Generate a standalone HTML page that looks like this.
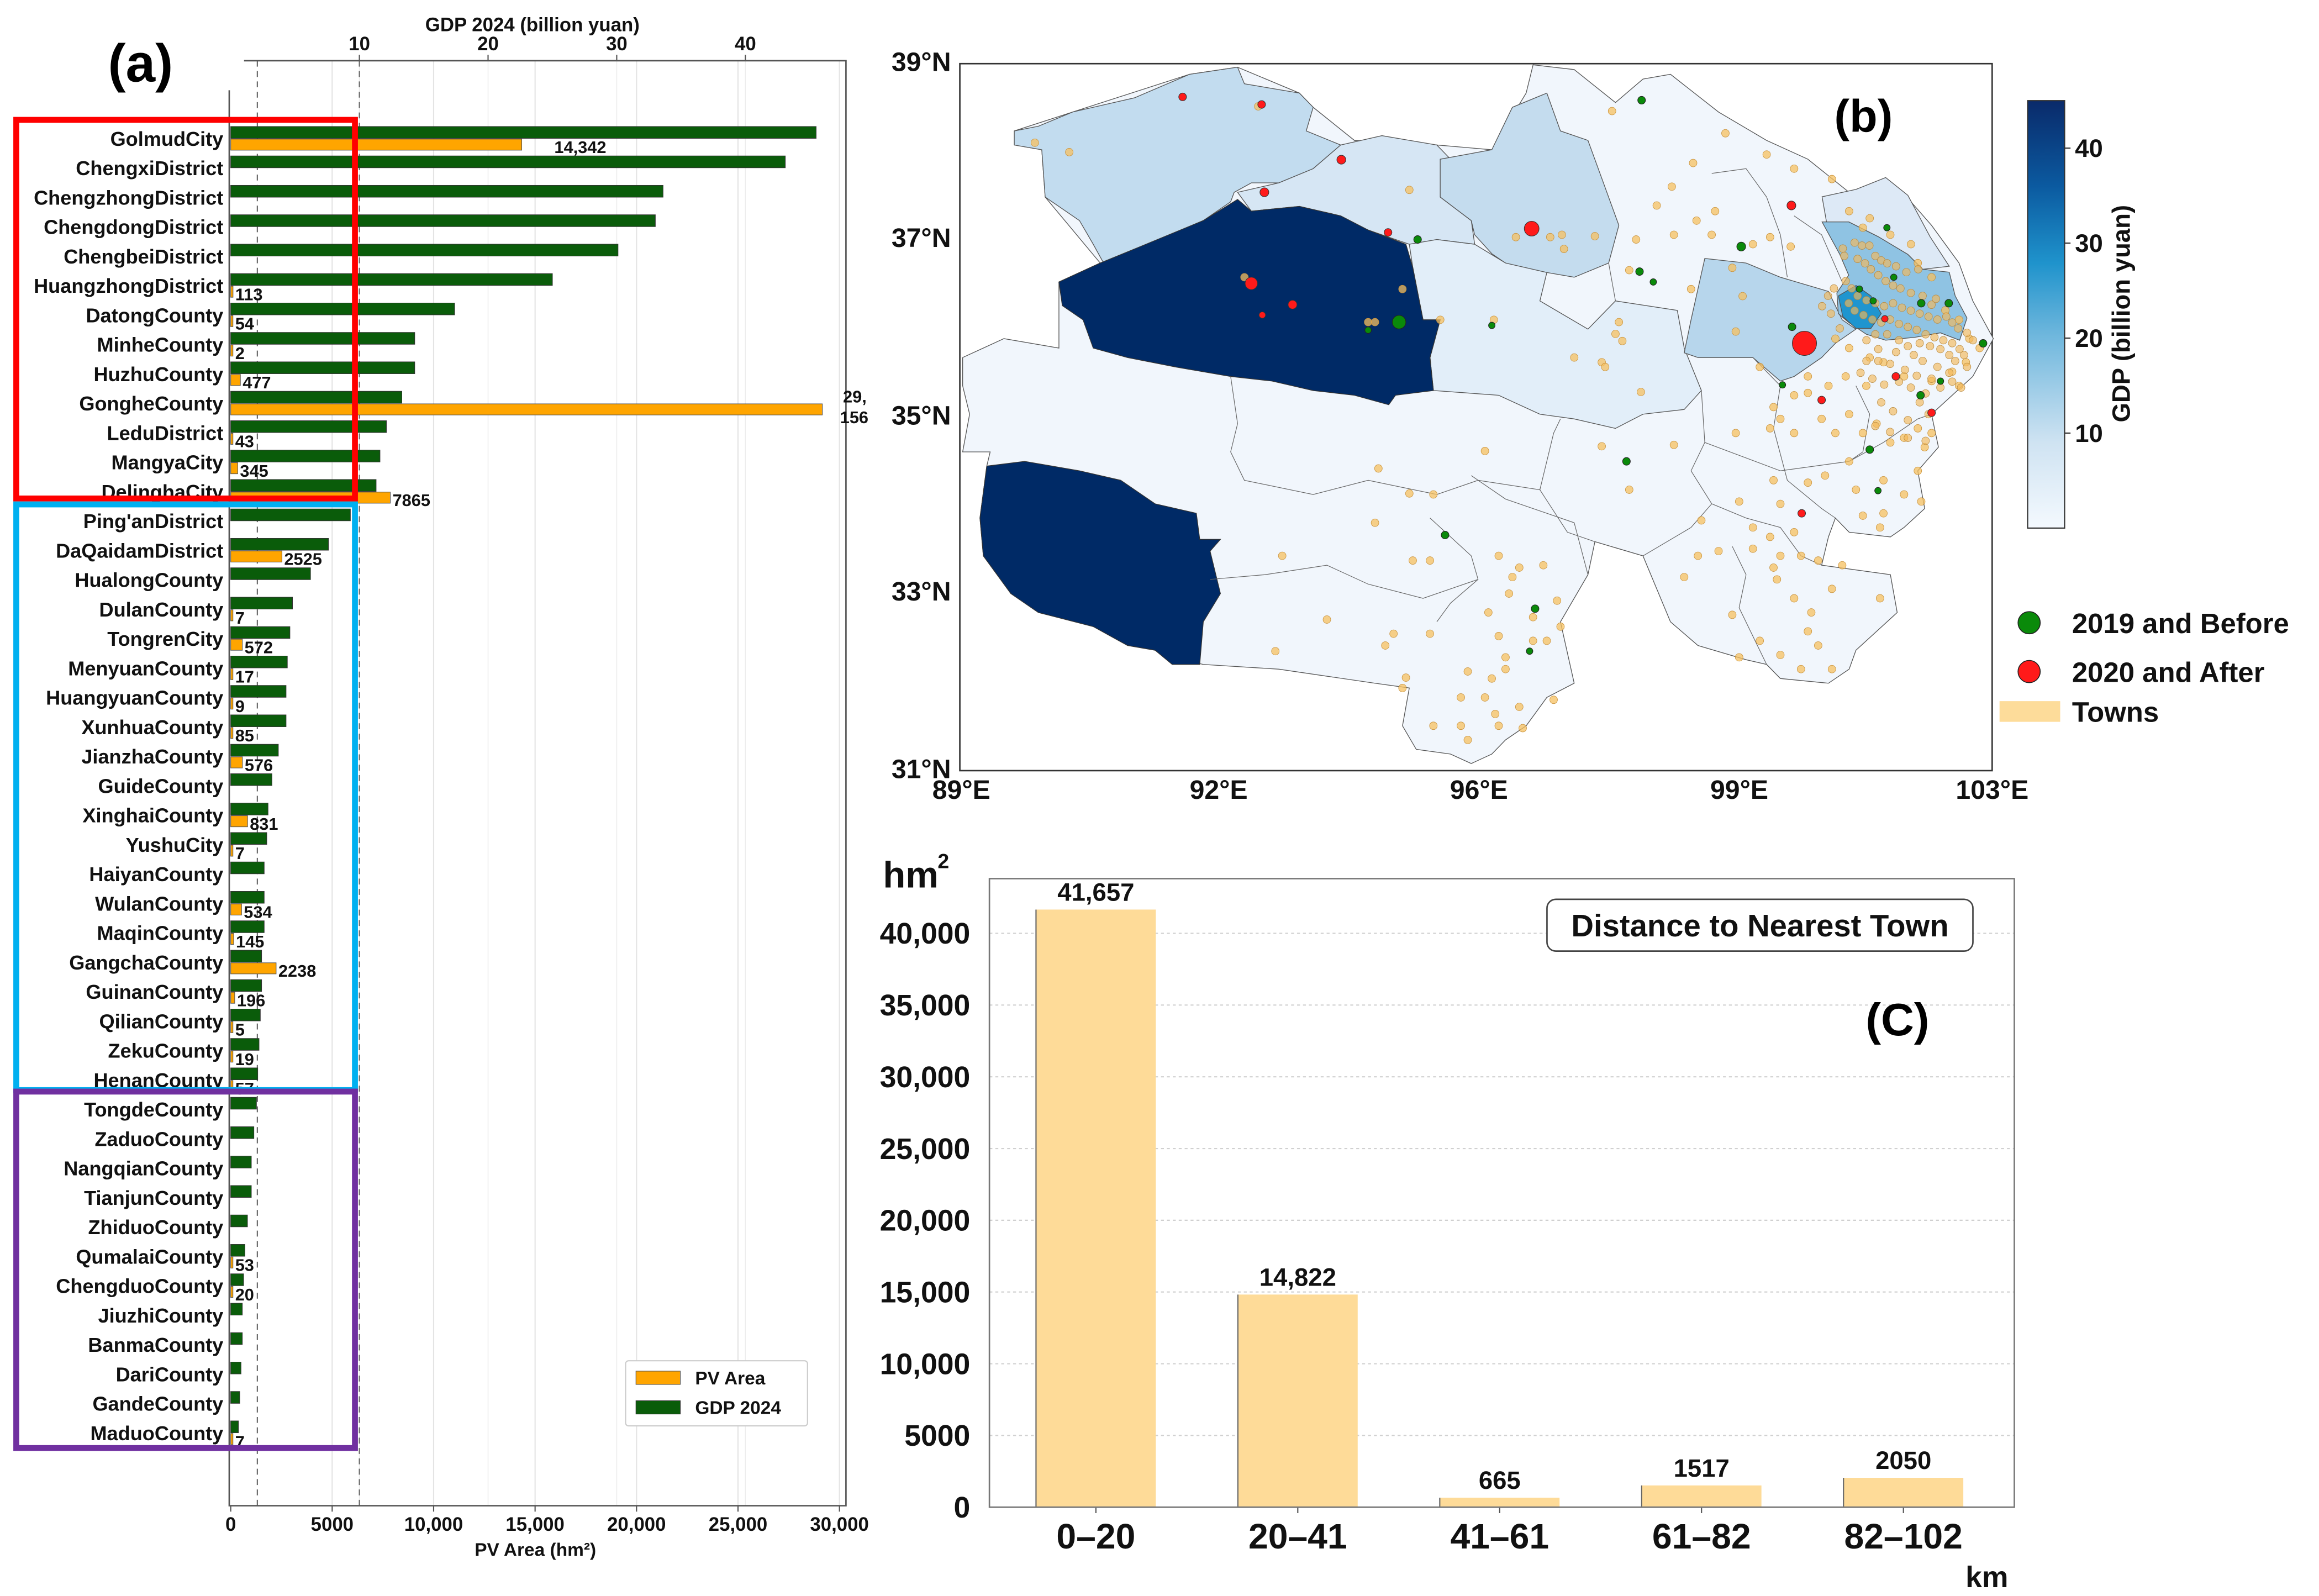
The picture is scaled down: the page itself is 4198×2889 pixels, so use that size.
<!DOCTYPE html>
<html><head><meta charset="utf-8">
<style>
html,body{margin:0;padding:0;background:#fff;}
svg{display:block;font-family:"Liberation Sans Narrow","Liberation Sans",sans-serif;font-weight:bold;}
</style></head>
<body>
<svg id="fig" xmlns="http://www.w3.org/2000/svg" width="4198" height="2889" viewBox="0 0 1568 1079">
<rect x="0" y="0" width="1568" height="1079" fill="#fff"/>
<g id="pa"></g>
<g id="pb"></g>
<g id="pc"></g>
</svg>
<script>
// ---------- Panel (a) data ----------
const counties = ["GolmudCity","ChengxiDistrict","ChengzhongDistrict","ChengdongDistrict","ChengbeiDistrict","HuangzhongDistrict","DatongCounty","MinheCounty","HuzhuCounty","GongheCounty","LeduDistrict","MangyaCity","DelinghaCity","Ping'anDistrict","DaQaidamDistrict","HualongCounty","DulanCounty","TongrenCity","MenyuanCounty","HuangyuanCounty","XunhuaCounty","JianzhaCounty","GuideCounty","XinghaiCounty","YushuCity","HaiyanCounty","WulanCounty","MaqinCounty","GangchaCounty","GuinanCounty","QilianCounty","ZekuCounty","HenanCounty","TongdeCounty","ZaduoCounty","NangqianCounty","TianjunCounty","ZhiduoCounty","QumalaiCounty","ChengduoCounty","JiuzhiCounty","BanmaCounty","DariCounty","GandeCounty","MaduoCounty"];
const gdpValues = [45.5,43.1,33.6,33.0,30.1,25.0,17.4,14.3,14.3,13.3,12.1,11.6,11.3,9.3,7.6,6.2,4.8,4.6,4.4,4.3,4.3,3.7,3.2,2.9,2.8,2.6,2.6,2.6,2.4,2.4,2.3,2.2,2.1,2.0,1.8,1.6,1.6,1.3,1.1,1.0,0.9,0.9,0.8,0.7,0.6];
const pvValues = [14342,0,0,0,0,113,54,2,477,29156,43,345,7865,0,2525,0,7,572,17,9,85,576,0,831,7,0,534,145,2238,196,5,19,57,0,0,0,0,0,53,20,0,0,0,0,7];
const pvTicks = [0,5000,10000,15000,20000,25000,30000];
const pvTickLabels = ["0","5000","10,000","15,000","20,000","25,000","30,000"];
const gdpTicks = [10,20,30,40];

// ---------- Panel (c) data ----------
const distCats = ["0–20","20–41","41–61","61–82","82–102"];
const distValues = [41657,14822,665,1517,2050];
const distTicks = [0,5000,10000,15000,20000,25000,30000,35000,40000];
const distTickLabels = ["0","5000","10,000","15,000","20,000","25,000","30,000","35,000","40,000"];

// ---------- Colorbar ----------
const cbTicks = [10,20,30,40];

const NS="http://www.w3.org/2000/svg";
function mk(parent,tag,attrs,text){const e=document.createElementNS(NS,tag);for(const k in attrs)e.setAttribute(k,attrs[k]);if(text!==undefined)e.textContent=text;parent.appendChild(e);return e;}

// ===== Panel A =====
(function(){
const g=document.getElementById('pa');
const x0=156, pxPerPV=68.6/5000, pxPerGDP=8.7;
const xPV=v=>x0+v*pxPerPV, xGDP=v=>x0+v*pxPerGDP;
const rowY=i=>94+i*19.89;
pvTicks.forEach(t=>{if(t>0){const l=mk(g,'line',{x1:xPV(t),x2:xPV(t),y1:41,y2:1018,stroke:'#e4e4e4','stroke-width':0.8});

}});
gdpTicks.forEach(t=>{const l=mk(g,'line',{x1:xGDP(t),x2:xGDP(t),y1:41,y2:1018,stroke:'#ececec','stroke-width':0.6});

});
[174,243].forEach(x=>{const l=mk(g,'line',{x1:x,x2:x,y1:41,y2:1018,stroke:'#666','stroke-width':0.8,'stroke-dasharray':'4,3'});

});
const ax=mk(g,'path',{d:'M165,41 H572 V1018 H155 V61',fill:'none',stroke:'#555','stroke-width':1});


counties.forEach((c,i)=>{
 const y=rowY(i);
 const t=mk(g,'text',{x:151,y:y+4.5,'text-anchor':'end','font-size':13.5,fill:'#111'},c);
 
 
 const gb=mk(g,'rect',{x:x0,y:y-8.5,width:xGDP(gdpValues[i])-x0,height:8,fill:'#0a5c0a',stroke:'#333','stroke-width':0.4});
 
 
 const v=pvValues[i];
 if(v>0){
  const w=Math.max(xPV(v)-x0,1.5);
  const pb=mk(g,'rect',{x:x0,y:y,width:w,height:7.5,fill:'#ffa500',stroke:'#555','stroke-width':0.4});
  
  
  const s=v>=10000?v.toLocaleString('en-US'):String(v);
  let lx=x0+w+1.5;
  if(v>=10000&&v<20000) lx=x0+w+22;
  if(lx>540){
   const parts=s.split(',');
   const a=mk(g,'text',{x:570,y:y-1,'font-size':11.5,fill:'#111'},parts[0]+',');
   
   
   const b=mk(g,'text',{x:568,y:y+13,'font-size':11.5,fill:'#111'},parts[1]);
   
   
  } else {
   const a=mk(g,'text',{x:lx,y:y+9.5,'font-size':11.5,fill:'#111'},s);
   
   
  }
 }
});
pvTicks.forEach((t,i)=>{mk(g,'line',{x1:xPV(t),x2:xPV(t),y1:1018,y2:1022,stroke:'#555','stroke-width':0.8});
 const a=mk(g,'text',{x:xPV(t),y:1035,'text-anchor':'middle','font-size':13,fill:'#111'},pvTickLabels[i]);
 
 });
const xt=mk(g,'text',{x:362,y:1052,'text-anchor':'middle','font-size':12.5,fill:'#111'},'PV Area (hm²)');


gdpTicks.forEach(t=>{mk(g,'line',{x1:xGDP(t),x2:xGDP(t),y1:37,y2:41,stroke:'#555','stroke-width':0.8});
 const a=mk(g,'text',{x:xGDP(t),y:34,'text-anchor':'middle','font-size':13,fill:'#111'},String(t));
 
 });
const tt=mk(g,'text',{x:360,y:21,'text-anchor':'middle','font-size':13,fill:'#111'},'GDP 2024 (billion yuan)');


const pl=mk(g,'text',{x:95,y:55,'text-anchor':'middle','font-size':36,fill:'#000'},'(a)');


[[11,81,229,256,'#ff0000','group-box-high'],[11,341,229,396,'#00b0f0','group-box-medium'],[11,738,229,241,'#7030a0','group-box-low']].forEach(b=>{
 const r=mk(g,'rect',{x:b[0],y:b[1],width:b[2],height:b[3],fill:'none',stroke:b[4],'stroke-width':4});
 
 });
const lg=mk(g,'g',{});


mk(lg,'rect',{x:423,y:920,width:123,height:44,fill:'#fff',stroke:'#ccc','stroke-width':0.8,rx:2});
mk(lg,'rect',{x:430,y:927,width:30,height:9,fill:'#ffa500',stroke:'#555','stroke-width':0.4});
const l1=mk(lg,'text',{x:470,y:936,'font-size':12.5,fill:'#111'},'PV Area');


mk(lg,'rect',{x:430,y:947,width:30,height:9,fill:'#0a5c0a',stroke:'#333','stroke-width':0.4});
const l2=mk(lg,'text',{x:470,y:956,'font-size':12.5,fill:'#111'},'GDP 2024');


})();

// ===== Panel B (map) =====
(function(){
const g=document.getElementById('pb');
const MX=z=>646.3+z*0.4646, MY=z=>37.4+z*0.3192;
function poly(pts,fill,name,stroke){
 const d=pts.map(p=>MX(p[0]).toFixed(1)+','+MY(p[1]).toFixed(1)).join(' ');
 const e=mk(g,'polygon',{points:d,fill:fill,stroke:stroke||'#555','stroke-width':0.5});
 
 
}
function polyD(pts,fill,name){
 const d=pts.map(p=>p[0]+','+p[1]).join(' ');
 const e=mk(g,'polygon',{points:d,fill:fill,stroke:'#555','stroke-width':0.5});
 
 
}
function pline(pts){const d=pts.map(p=>MX(p[0]).toFixed(1)+','+MY(p[1]).toFixed(1)).join(' ');
 const e=mk(g,'polyline',{points:d,fill:'none',stroke:'#666','stroke-width':0.45});
 
 }
const frame=mk(g,'rect',{x:649,y:43,width:698,height:478,fill:'#fff',stroke:'#333','stroke-width':1});


poly([[10,640],[70,600],[150,620],[150,480],[210,440],[130,300],[125,200],[85,190],[85,160],[170,120],[340,40],[410,25],[500,80],[520,110],[580,180],[700,190],[780,200],[830,80],[840,20],[900,30],[960,100],[1000,50],[1040,40],[1110,120],[1180,180],[1240,220],[1300,290],[1350,280],[1390,310],[1420,360],[1460,440],[1480,520],[1510,600],[1480,680],[1450,720],[1420,760],[1430,830],[1400,880],[1410,960],[1380,1000],[1360,1020],[1300,1010],[1280,980],[1270,1020],[1260,1080],[1360,1100],[1370,1180],[1310,1260],[1300,1300],[1270,1330],[1200,1320],[1180,1290],[1150,1280],[1080,1250],[1040,1200],[1000,1060],[930,1030],[920,1100],[880,1200],[900,1330],[860,1360],[830,1420],[800,1450],[780,1480],[750,1500],[720,1480],[670,1470],[650,1420],[660,1340],[610,1330],[470,1300],[360,1290],[330,1280],[290,1260],[200,1210],[80,1140],[40,1060],[35,980],[45,870],[50,840],[10,840],[20,760],[10,700]],'#f1f6fc','qinghai-province');
poly([[85,160],[120,150],[170,120],[260,90],[340,40],[410,25],[420,60],[500,80],[520,110],[510,160],[560,190],[520,240],[470,270],[430,270],[405,290],[400,310],[360,350],[300,390],[260,410],[215,440],[200,400],[180,350],[130,300],[125,200],[85,190]],'#c2dcef','region-mangya');
poly([[410,290],[470,270],[520,240],[560,190],[620,170],[700,190],[720,220],[705,300],[750,350],[755,400],[700,390],[680,420],[660,400],[600,370],[560,340],[500,320],[430,330]],'#d6e6f4','region-daqaidam');
poly([[705,220],[780,200],[810,110],[860,80],[880,160],[920,180],[940,260],[965,360],[950,440],[900,470],[860,460],[820,460],[780,420],[755,380],[750,350],[705,300]],'#c4dcee','region-delingha');
poly([[660,400],[700,390],[755,400],[800,440],[860,460],[850,520],[920,580],[960,520],[1050,540],[1060,620],[1085,710],[1060,750],[1000,760],[960,790],[900,770],[850,760],[790,720],[695,710],[690,640],[705,560],[680,560],[665,450]],'#e2eef9','region-wulan');
poly([[1060,630],[1070,560],[1090,430],[1150,440],[1200,470],[1270,500],[1290,560],[1310,580],[1280,610],[1260,640],[1220,680],[1200,690],[1160,640],[1080,640]],'#b7d6ec','region-gonghe');
polyD([[1232,133],[1255,128],[1275,120],[1290,132],[1305,160],[1318,180],[1300,182],[1290,172],[1270,160],[1250,150],[1235,150]],'#dde9f6','region-menyuan');
polyD([[1232,150],[1250,150],[1270,160],[1290,172],[1300,182],[1318,184],[1322,200],[1330,215],[1325,230],[1312,225],[1295,228],[1275,230],[1262,226],[1250,218],[1243,212],[1242,198],[1250,186],[1244,172]],'#8fc3e3','region-huangzhong');
polyD([[1243,200],[1255,193],[1265,200],[1272,212],[1265,222],[1255,222],[1246,214]],'#1f95cf','region-xining');
poly([[150,480],[210,440],[260,410],[360,350],[410,305],[430,330],[500,320],[560,340],[600,370],[655,400],[665,450],[680,560],[705,560],[690,640],[695,710],[640,720],[630,740],[580,720],[520,710],[460,690],[400,680],[320,660],[250,640],[200,620],[185,560],[155,530]],'#002a66','region-golmud','#333');
poly([[45,870],[100,860],[180,880],[240,900],[290,950],[350,970],[355,1025],[385,1025],[370,1050],[385,1140],[360,1200],[355,1290],[315,1290],[290,1260],[250,1250],[200,1210],[120,1180],[80,1140],[40,1060],[35,980]],'#002a66','region-tanggula','#333');
pline([[400,680],[410,780],[400,840],[420,900],[520,930],[600,900],[700,930],[760,900],[850,920],[870,800],[880,770]]);
pline([[370,1110],[450,1100],[540,1080],[600,1120],[680,1150],[720,1130],[760,1110]]);
pline([[690,980],[750,1060],[760,1110],[720,1160],[700,1200]]);
pline([[750,890],[800,940],[900,990],[920,1100]]);
pline([[850,920],[890,1010],[930,1030]]);
pline([[1085,710],[1090,820],[1070,880],[1100,950],[1070,1000],[1000,1060]]);
pline([[1160,640],[1200,700],[1190,790],[1210,900],[1260,960],[1280,980]]);
pline([[1090,820],[1200,880],[1300,860],[1350,820],[1400,770],[1420,760]]);
pline([[1100,950],[1150,980],[1200,1000],[1230,1060],[1260,1080]]);
pline([[1100,250],[1150,240],[1180,300],[1200,380],[1210,470]]);
pline([[960,520],[950,440]]);
pline([[1220,340],[1260,380],[1290,480]]);
pline([[1130,1040],[1150,1100],[1140,1170],[1180,1290]]);
pline([[1310,700],[1330,760],[1320,840],[1300,860]]);
const towns=[[115,185],[165,205],[440,108],[660,285],[882,380],[885,410],[930,383],[815,385],[865,385],[955,118],[1120,165],[1180,210],[1220,240],[1275,262],[1073,228],[1042,278],[1020,318],[1078,350],[1105,330],[1045,380],[1100,380],[990,390],[1160,400],[1185,385],[1215,405],[980,455],[1070,495],[1130,450],[1145,510],[1135,585],[965,565],[970,605],[960,590],[900,640],[940,650],[945,660],[997,713],[783,560],[705,560],[650,495],[420,470],[1300,330],[1330,345],[1320,365],[1360,380],[1390,400],[1400,440],[1420,470],[1440,540],[1460,560],[1475,600],[1490,620],[1470,650],[1450,670],[1420,690],[1460,700],[1380,680],[1350,650],[1330,640],[1300,620],[1280,600],[1325,700],[1295,680],[1270,700],[1240,680],[1170,660],[1220,720],[1240,715],[1190,745],[1200,770],[1185,790],[1220,800],[1260,770],[1280,800],[1300,760],[1320,800],[1340,780],[1360,820],[1380,810],[1400,790],[1420,800],[1410,830],[1135,800],[1300,860],[1350,900],[1310,920],[1400,880],[1380,930],[1405,945],[1350,970],[1320,975],[1345,1000],[1265,890],[1240,905],[1190,900],[1200,950],[1140,945],[1160,1000],[1185,1020],[1220,1010],[1085,985],[1080,1060],[1110,1050],[1160,1045],[1200,1060],[1230,1060],[1190,1085],[1195,1110],[1255,1070],[1290,1080],[1275,1130],[1345,1150],[1245,1180],[1220,1150],[1130,1185],[1240,1220],[1255,1250],[1200,1270],[1230,1300],[1275,1300],[1140,1275],[1170,1240],[1060,1105],[940,828],[1045,825],[980,920],[770,838],[615,875],[660,928],[695,930],[610,990],[475,1060],[665,1070],[690,1070],[790,1060],[820,1085],[855,1080],[810,1105],[805,1140],[775,1180],[840,1190],[875,1155],[880,1210],[860,1240],[840,1240],[790,1230],[800,1275],[540,1195],[465,1262],[625,1250],[637,1225],[690,1225],[655,1318],[650,1340],[745,1305],[780,1320],[800,1300],[735,1360],[770,1360],[870,1365],[820,1380],[785,1395],[735,1420],[695,1420],[790,1420],[825,1425],[745,1450],[600,565],[610,565]];
towns.forEach(p=>{const c=mk(g,'circle',{cx:MX(p[0]),cy:MY(p[1]),r:2.6,fill:'#f5c060','fill-opacity':0.75,stroke:'#c8913a','stroke-width':0.3});
 
 });
// dense Xining-area towns (display coords)
const townsXining=[[1254,164],[1259,166],[1264,166],[1268,173],[1272,176],[1276,178],[1282,180],[1289,184],[1297,182],[1306,206],[1309,202],[1246,168],[1247,173],[1256,175],[1261,178],[1265,182],[1270,186],[1275,190],[1280,193],[1285,195],[1292,198],[1300,200],[1248,190],[1252,195],[1256,200],[1262,203],[1268,205],[1274,207],[1280,205],[1286,208],[1292,210],[1298,212],[1304,214],[1310,216],[1316,214],[1320,218],[1324,222],[1250,205],[1254,210],[1260,213],[1266,216],[1272,218],[1278,216],[1284,219],[1290,221],[1296,223],[1302,226],[1308,228],[1314,230],[1320,232],[1325,236],[1328,240],[1322,244],[1318,240],[1312,236],[1305,234],[1298,232],[1290,234],[1284,230],[1276,226],[1268,226],[1240,195],[1236,200],[1232,207],[1238,212],[1244,222],[1262,230],[1270,236],[1282,238],[1294,240],[1300,244],[1310,248],[1318,252],[1306,256],[1296,254],[1288,250],[1278,246],[1270,244],[1262,244],[1258,252],[1266,256],[1274,260],[1284,258],[1292,262],[1302,266],[1312,262],[1320,258],[1326,262],[1330,248],[1334,230],[1330,225],[1298,272],[1304,280],[1290,284],[1280,278],[1272,272],[1268,288],[1278,292],[1290,296],[1302,298]];
townsXining.forEach(p=>{const c=mk(g,'circle',{cx:p[0],cy:p[1],r:2.6,fill:'#f2b95a','fill-opacity':0.65,stroke:'#b88a40','stroke-width':0.3});
 
 });
const greens=[[998,95,5],[672,390,5],[995,458,5],[1015,480,4],[780,572,4],[645,565,10],[600,582,4],[1143,405,6],[1217,575,5],[1203,698,4],[1355,365,4],[1365,470,4],[1315,495,4],[1405,525,5],[1445,525,5],[1335,520,4],[1495,610,5],[1433,690,4],[1404,720,5],[1330,835,5],[1342,922,4],[976,860,5],[712,1016,5],[843,1172,5],[835,1262,4]];
greens.forEach(p=>{const c=mk(g,'circle',{cx:MX(p[0]),cy:MY(p[1]),r:p[2]*0.4+0.6,fill:'#0a8a0a',stroke:'#222','stroke-width':0.4});
 
 });
const reds=[[330,88,5],[445,104,5],[561,221,6],[449,290,6],[629,375,5],[838,367,11],[430,483,9],[490,528,6],[446,550,4],[1216,318,6],[1235,610,19],[1260,730,5],[1368,680,5],[1420,757,5],[1231,970,5],[1352,558,4]];
reds.forEach(p=>{const c=mk(g,'circle',{cx:MX(p[0]),cy:MY(p[1]),r:p[2]*0.4+0.6,fill:'#ff1a1a',stroke:'#333','stroke-width':0.4});
 
 });
[['39°N',48],['37°N',167],['35°N',287],['33°N',406],['31°N',526]].forEach(a=>{const t=mk(g,'text',{x:643,y:a[1],'text-anchor':'end','font-size':18,fill:'#111'},a[0]);
 
 });
[['89°E',650],['92°E',824],['96°E',1000],['99°E',1176],['103°E',1347]].forEach(a=>{const t=mk(g,'text',{x:a[1],y:540,'text-anchor':'middle','font-size':18,fill:'#111'},a[0]);
 
 });
const pl=mk(g,'text',{x:1260,y:89,'text-anchor':'middle','font-size':31,fill:'#000'},'(b)');


const defs=mk(g,'defs',{});
const lgd=mk(defs,'linearGradient',{id:'cbg',x1:0,y1:1,x2:0,y2:0});
[['0','#f4f9fe'],['0.2','#cfe3f2'],['0.45','#6fb7dd'],['0.62','#1f93cc'],['0.8','#0b5aa0'],['1','#0a2a6a']].forEach(s=>mk(lgd,'stop',{offset:s[0],'stop-color':s[1]}));
const cb=mk(g,'rect',{x:1371,y:68,width:25,height:289,fill:'url(#cbg)',stroke:'#333','stroke-width':0.8});


const cbY=v=>357-v*(289/45);
cbTicks.forEach(t=>{mk(g,'line',{x1:1396,x2:1400,y1:cbY(t),y2:cbY(t),stroke:'#333','stroke-width':0.8});
 const a=mk(g,'text',{x:1403,y:cbY(t)+6,'font-size':17,fill:'#111'},String(t));
 
 });
const ct=mk(g,'text',{x:1440,y:212,'text-anchor':'middle','font-size':17,fill:'#111',transform:'rotate(-90 1440 212)'},'GDP (billion yuan)');


const lg=mk(g,'g',{});


mk(lg,'circle',{cx:1372,cy:421,r:7.5,fill:'#0a8a0a',stroke:'#222','stroke-width':0.6});
const e1=mk(lg,'text',{x:1401,y:428,'font-size':19,fill:'#111'},'2019 and Before');


mk(lg,'circle',{cx:1372,cy:454,r:7.5,fill:'#ff1a1a',stroke:'#222','stroke-width':0.6});
const e2=mk(lg,'text',{x:1401,y:461,'font-size':19,fill:'#111'},'2020 and After');


mk(lg,'rect',{x:1352,y:474,width:41,height:14,fill:'#fddc9a'});
const e3=mk(lg,'text',{x:1401,y:488,'font-size':19,fill:'#111'},'Towns');


})();

// ===== Panel C =====
(function(){
const g=document.getElementById('pc');
const L=669,R=1362,T=594,B=1019;
const yS=v=>B-v*(388/40000);
const xC=i=>741+i*136.5;
distTicks.forEach((t,i)=>{
 if(t>0){const l=mk(g,'line',{x1:L,x2:R,y1:yS(t),y2:yS(t),stroke:'#d0d0d0','stroke-width':0.8,'stroke-dasharray':'2,2'});
 
 }
 const a=mk(g,'text',{x:656,y:yS(t)+7,'text-anchor':'end','font-size':20,fill:'#111'},distTickLabels[i]);
 
 
});
distValues.forEach((v,i)=>{
 const r=mk(g,'rect',{x:xC(i)-40.5,y:yS(v),width:81,height:B-yS(v),fill:'#fedb98'});
 
 
 mk(g,'line',{x1:xC(i)-40.5,x2:xC(i)-40.5,y1:yS(v),y2:B,stroke:'#666','stroke-width':0.8});
 const lab=v>=10000?v.toLocaleString('en-US'):String(v);
 const t=mk(g,'text',{x:xC(i),y:yS(v)-6,'text-anchor':'middle','font-size':17,fill:'#111'},lab);
 
 
 mk(g,'line',{x1:xC(i),x2:xC(i),y1:B,y2:B+4,stroke:'#555','stroke-width':0.8});
 const c=mk(g,'text',{x:xC(i),y:1047,'text-anchor':'middle','font-size':24,fill:'#111'},distCats[i]);
 
 
});
const fr=mk(g,'path',{d:`M${L},${T} H${R} V${B} H${L} Z`,fill:'none',stroke:'#777','stroke-width':1});


const hm=mk(g,'text',{x:597,y:600,'font-size':25,fill:'#111'},'hm');


mk(g,'text',{x:634,y:587,'font-size':14,fill:'#111'},'2');
const km=mk(g,'text',{x:1329,y:1073,'font-size':20,fill:'#111'},'km');


const box=mk(g,'rect',{x:1046,y:608,width:288,height:35,rx:6,fill:'#fff',stroke:'#444','stroke-width':1});


const tt=mk(g,'text',{x:1190,y:633,'text-anchor':'middle','font-size':21,fill:'#111'},'Distance to Nearest Town');


const pl=mk(g,'text',{x:1283,y:700,'text-anchor':'middle','font-size':31,fill:'#000'},'(C)');


})();
</script>
</body></html>
